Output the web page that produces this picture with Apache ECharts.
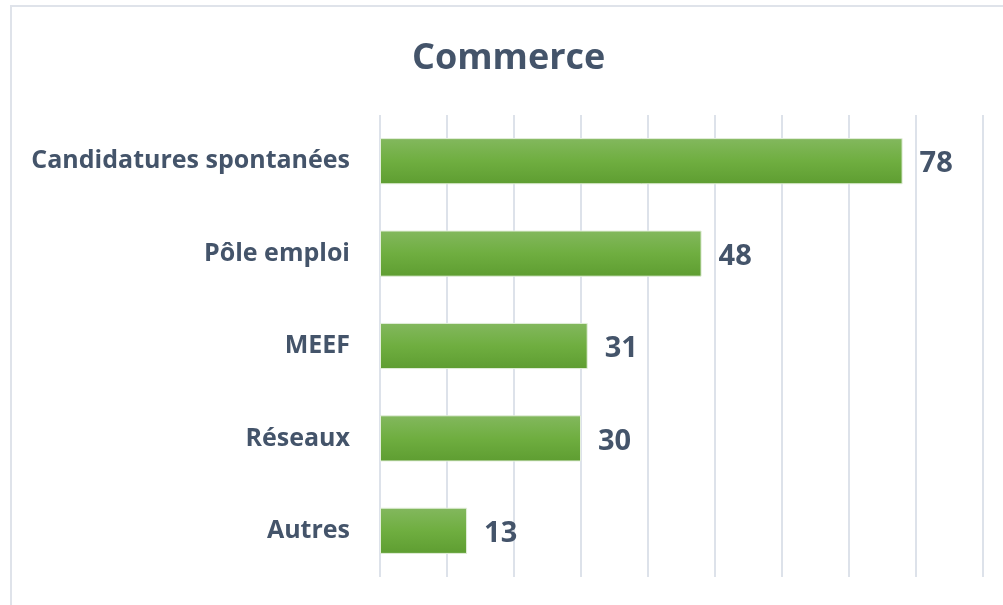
<!DOCTYPE html>
<html>
<head>
<meta charset="utf-8">
<script src="https://cdn.jsdelivr.net/npm/echarts@6/dist/echarts.min.js"></script>
<style>
  html, body { margin: 0; padding: 0; background: #fff; }
  #chart { width: 1003px; height: 605px; }
</style>
</head>
<body>
<div id="chart"></div>
<script>
// data
const categories = ['Candidatures spontanées', 'Pôle emploi', 'MEEF', 'Réseaux', 'Autres'];
const values = [78, 48, 31, 30, 13];

const textColor = '#44546a';
const fontFam = '"Open Sans", Lato, sans-serif';

const chart = echarts.init(document.getElementById('chart'));

chart.setOption({
    animation: false,
    title: {
        text: 'Commerce',
        left: 407,
        top: 36,
        textStyle: { color: textColor, fontSize: 36, fontWeight: 'bold', fontFamily: fontFam }
    },
    graphic: [{
        type: 'rect',
        shape: { x: 11, y: 6, width: 1100, height: 700 },
        style: { fill: 'none', stroke: '#dfe3ea', lineWidth: 2 },
        silent: true
    }],
    grid: { left: 380, right: 20, top: 115, bottom: 28 },
    xAxis: {
        type: 'value',
        min: 0,
        max: 90,
        interval: 10,
        axisLabel: { show: false },
        axisLine: { show: false },
        axisTick: { show: false },
        splitLine: { lineStyle: { color: '#dde2ea', width: 2 } }
    },
    yAxis: {
        type: 'category',
        data: categories,
        inverse: true,
        axisLine: { show: false },
        axisTick: { show: false },
        axisLabel: {
            color: textColor,
            fontSize: 25,
            fontWeight: 'bold',
            fontFamily: fontFam,
            margin: 30,
            padding: [6, 0, 0, 0]
        }
    },
    series: [{
        type: 'bar',
        data: values,
        barCategoryGap: '50%',
        itemStyle: {
            color: new echarts.graphic.LinearGradient(0, 0, 0, 1, [
                { offset: 0, color: '#83b85e' },
                { offset: 0.5, color: '#6fae40' },
                { offset: 1, color: '#5e9d31' }
            ]),
            borderColor: '#e4efdc',
            borderWidth: 1
        },
        label: {
            show: true,
            position: 'right',
            distance: 17,
            offset: [0, 3],
            color: textColor,
            fontSize: 29,
            fontWeight: 'bold',
            fontFamily: fontFam
        }
    }]
});
</script>
</body>
</html>
